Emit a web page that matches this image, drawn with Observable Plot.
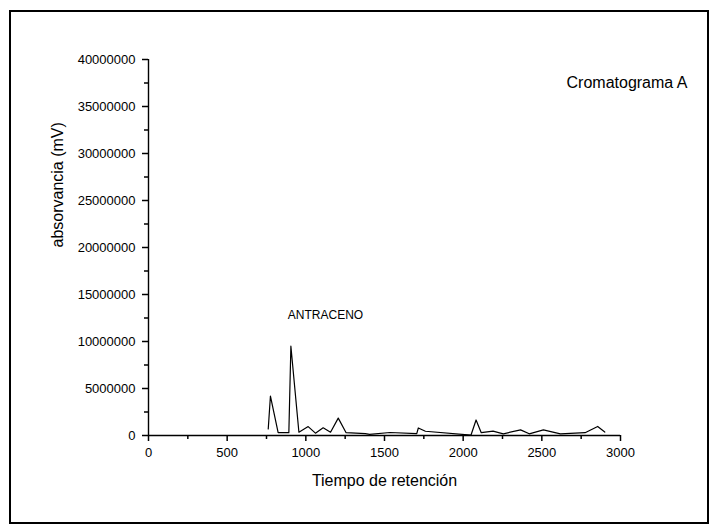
<!DOCTYPE html>
<html>
<head>
<meta charset="utf-8">
<script src="https://cdn.jsdelivr.net/npm/d3@7"></script>
<script src="https://cdn.jsdelivr.net/npm/@observablehq/plot@0.6"></script>
<style>
  html, body { margin: 0; padding: 0; background: #fff; }
  #wrap { position: relative; width: 716px; height: 531px; }
  #frame { position: absolute; left: 9px; top: 10px; width: 696px; height: 510px; border: 2px solid #000; pointer-events: none; }
</style>
</head>
<body>
<div id="wrap"><div id="frame"></div></div>
<script>
// Retention time (x) and absorbance (y)
const tiempos = [761, 775, 824, 892, 905, 956, 1015, 1061, 1110, 1157, 1206, 1256, 1379, 1405, 1535, 1705, 1715, 1760, 2050, 2082, 2115, 2190, 2255, 2365, 2420, 2510, 2618, 2775, 2855, 2900];
const absorvancias = [700000, 4200000, 300000, 300000, 9500000, 350000, 950000, 250000, 820000, 350000, 1850000, 300000, 200000, 120000, 320000, 200000, 800000, 450000, 50000, 1650000, 300000, 470000, 180000, 600000, 180000, 600000, 180000, 300000, 960000, 370000];
const xTicks = [0, 500, 1000, 1500, 2000, 2500, 3000];
const xMinor = [250, 750, 1250, 1750, 2250, 2750];
const yTicks = [0, 5000000, 10000000, 15000000, 20000000, 25000000, 30000000, 35000000, 40000000];
const yMinor = [2500000, 7500000, 12500000, 17500000, 22500000, 27500000, 32500000, 37500000];
const anotaciones = [{x: 1125, y: 12800000, t: "ANTRACENO"}];
const tituloInterno = [{x: 2657, y: 37550000, t: "Cromatograma A"}];

const data = tiempos.map((t, i) => ({t, a: absorvancias[i]}));

const chart = Plot.plot({
  width: 716,
  height: 531,
  marginLeft: 148,
  marginRight: 96,
  marginTop: 59,
  marginBottom: 96,
  style: {fontFamily: "'Liberation Sans', Arial, sans-serif", fontSize: "13px", color: "#000", background: "transparent"},
  x: {domain: [0, 3000]},
  y: {domain: [0, 40000000]},
  marks: [
    Plot.axisX(xTicks, {tickSize: 6, tickPadding: 6, tickFormat: d3.format("d"), fontSize: 13, label: null, stroke: "#000", strokeWidth: 1.5, strokeOpacity: 1}),
    Plot.axisX(xMinor, {tickSize: 4, tickFormat: () => "", label: null, stroke: "#000", strokeWidth: 1.5, strokeOpacity: 1}),
    Plot.axisY(yTicks, {tickSize: 6, tickPadding: 7, tickFormat: d3.format("d"), fontSize: 13, label: null, stroke: "#000", strokeWidth: 1.5, strokeOpacity: 1}),
    Plot.axisY(yMinor, {tickSize: 4, tickFormat: () => "", label: null, stroke: "#000", strokeWidth: 1.5, strokeOpacity: 1}),
    Plot.ruleY([0], {stroke: "#000", strokeWidth: 1.4}),
    Plot.ruleX([0], {stroke: "#000", strokeWidth: 1.4}),
    Plot.line(data, {x: "t", y: "a", stroke: "#000", strokeWidth: 1.2}),
    Plot.text(anotaciones, {x: "x", y: "y", text: "t", fontSize: 12, textAnchor: "middle", fill: "#000"}),
    Plot.text(tituloInterno, {x: "x", y: "y", text: "t", fontSize: 16, textAnchor: "start", fill: "#000"}),
    Plot.text(["Tiempo de retención"], {frameAnchor: "bottom", dy: 50, text: d => d, fontSize: 16, fill: "#000"}),
    Plot.text(["absorvancia (mV)"], {frameAnchor: "left", dx: -91, rotate: -90, text: d => d, fontSize: 16, fill: "#000"})
  ]
});
chart.style.position = "absolute";
chart.style.left = "0";
chart.style.top = "0";
chart.style.overflow = "visible";
document.getElementById("wrap").appendChild(chart);
</script>
</body>
</html>
